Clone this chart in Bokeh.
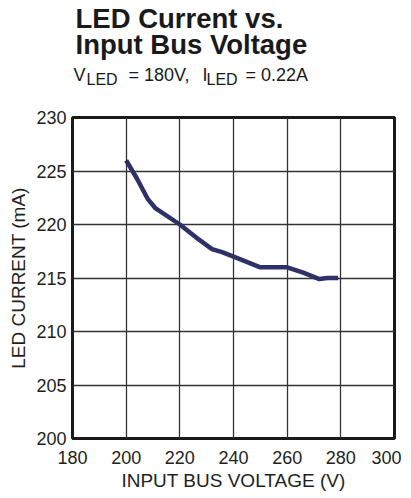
from bokeh.plotting import figure
from bokeh.layouts import column
from bokeh.models import Range1d, FixedTicker
from bokeh.core.properties import value
from bokeh.embed import file_html
from bokeh.resources import INLINE

# Data
voltage = [200, 204, 208, 211, 220, 226, 232, 236, 244, 250, 260, 266, 272, 275, 279]
current = [226.0, 224.3, 222.4, 221.5, 220.0, 218.8, 217.7, 217.4, 216.6, 216.0, 216.0, 215.5, 214.9, 215.0, 215.0]
x_ticks = [180, 200, 220, 240, 260, 280, 300]
y_ticks = [200, 205, 210, 215, 220, 225, 230]
title_lines = ["LED Current vs.", "Input Bus Voltage"]
subtitle_main = ["V", "= 180V,", "I", "= 0.22A"]
subtitle_sub = ["LED", "LED"]

FONT = "Liberation Sans"
TXT = "#231f20"
W = 401
BL, BR = 72, 7          # left / right borders shared by both figures
FW = W - BL - BR        # frame width in px

# ---- title block (separate figure; coordinates in px from frame left / bottom) ----
tf = figure(width=W, height=100, output_backend="svg", toolbar_location=None,
            x_range=Range1d(0, FW), y_range=Range1d(0, 100),
            min_border_left=BL, min_border_right=BR, min_border_top=0, min_border_bottom=0,
            x_axis_location=None, y_axis_location=None)
tf.grid.visible = False
tf.outline_line_color = None
tf.title.visible = False
tf.text(x=[3, 3], y=[82, 56], text=title_lines, text_font=value(FONT),
        text_font_size="27.5px", text_font_style="bold", text_color="#1a1a1a",
        text_align="left", text_baseline="alphabetic")
tf.text(x=[1, 56, 130, 173], y=[26, 26, 26, 26], text=subtitle_main, text_font=value(FONT),
        text_font_size="18px", text_color="#1a1a1a",
        text_align="left", text_baseline="alphabetic")
tf.text(x=[14, 134], y=[21, 21], text=subtitle_sub, text_font=value(FONT),
        text_font_size="16px", text_color="#1a1a1a",
        text_align="left", text_baseline="alphabetic")

# ---- main chart ----
p = figure(width=W, height=393, output_backend="svg", toolbar_location=None,
           x_range=Range1d(180, 300), y_range=Range1d(200, 230),
           min_border_left=BL, min_border_right=BR, min_border_top=17, min_border_bottom=55)
p.title.visible = False
p.background_fill_color = "white"
p.border_fill_color = "white"
p.outline_line_color = "#1a1a1a"
p.outline_line_width = 3

p.xaxis.ticker = FixedTicker(ticks=x_ticks)
p.yaxis.ticker = FixedTicker(ticks=y_ticks)
for ax in (p.xaxis, p.yaxis):
    ax.axis_line_color = None
    ax.major_tick_line_color = None
    ax.minor_tick_line_color = None
    ax.major_tick_out = 0
    ax.major_tick_in = 0
    ax.minor_tick_out = 0
    ax.minor_tick_in = 0
    ax.major_label_text_font = FONT
    ax.major_label_text_font_size = "18px"
    ax.major_label_text_color = TXT
    ax.axis_label_text_font = FONT
    ax.axis_label_text_font_size = "19px"
    ax.axis_label_text_font_style = "normal"
    ax.axis_label_text_color = TXT
p.xaxis.axis_label = "INPUT BUS VOLTAGE (V)"
p.yaxis.axis_label = "LED CURRENT (mA)"
p.xaxis.major_label_standoff = 12
p.xaxis.axis_label_standoff = 3
p.yaxis.major_label_standoff = 6
p.yaxis.axis_label_standoff = 4

p.grid.grid_line_color = "#333333"
p.grid.grid_line_width = 1.3
p.grid.grid_line_alpha = 1.0

p.line(voltage, current, line_width=4.5, line_color="#2e3066", line_join="round")

layout = column(tf, p, spacing=0)
open("out.html", "w").write(file_html(layout, INLINE))
